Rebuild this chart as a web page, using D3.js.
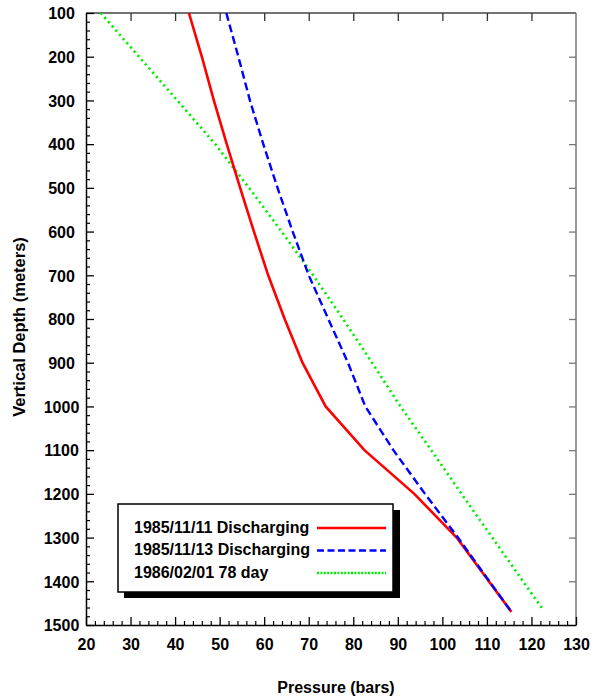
<!DOCTYPE html>
<html><head><meta charset="utf-8">
<script src="https://cdn.jsdelivr.net/npm/d3@7"></script>
<style>
body{margin:0;background:#fff}
text{font-family:Arial,"Liberation Sans",sans-serif;font-weight:bold;fill:#000}
</style></head>
<body><svg id="c" width="602" height="698"></svg>
<script>
// ---- data ----
const seriesNames = ["1985/11/11 Discharging", "1985/11/13 Discharging", "1986/02/01 78 day"];
const redDepth   = [100, 200, 300, 400, 500, 600, 700, 800, 900, 1000, 1100, 1200, 1300, 1470];
const redPress   = [43.1, 46.0, 48.7, 51.6, 54.6, 57.7, 60.9, 64.6, 68.6, 73.8, 82.5, 93.7, 103.2, 115.5];
const blueDepth  = [100, 200, 300, 400, 500, 600, 700, 800, 900, 1000, 1100, 1200, 1300, 1470];
const bluePress  = [51.5, 54.2, 56.8, 59.8, 63.0, 66.4, 70.0, 74.4, 78.8, 82.7, 89.0, 96.1, 103.5, 115.5];
const greenDepth = [100, 200, 300, 400, 500, 600, 700, 800, 900, 1000, 1100, 1200, 1300, 1400, 1465];
const greenPress = [23.3, 31.9, 40.5, 49.0, 56.6, 63.9, 71.0, 77.7, 84.2, 90.6, 97.5, 104.3, 111.2, 118.1, 122.6];
const xTicks = [20, 30, 40, 50, 60, 70, 80, 90, 100, 110, 120, 130];
const yTicks = [100, 200, 300, 400, 500, 600, 700, 800, 900, 1000, 1100, 1200, 1300, 1400, 1500];
const xTitle = "Pressure (bars)";
const yTitle = "Vertical Depth (meters)";

// ---- layout ----
const L = 86, R = 576, T = 13, B = 625;
const svg = d3.select("#c");
const x = d3.scaleLinear().domain([20, 130]).range([L, R]);
const y = d3.scaleLinear().domain([100, 1500]).range([T, B]);

// frame top/right
svg.append("line").attr("x1", L).attr("x2", R).attr("y1", T).attr("y2", T).attr("stroke", "#444").attr("stroke-width", 1.5);
svg.append("line").attr("x1", R).attr("x2", R).attr("y1", T).attr("y2", B).attr("stroke", "#777").attr("stroke-width", 1.5);

// minor ticks
const xMinor = d3.range(20, 130.01, 2).filter(v => v % 10 !== 0);
const yMinor = d3.range(100, 1500.01, 20).filter(v => v % 100 !== 0);
svg.append("g").attr("transform", `translate(0,${B})`)
  .call(d3.axisBottom(x).tickValues(xMinor).tickSizeInner(-4).tickSizeOuter(0).tickFormat(""))
  .call(g => g.select(".domain").remove())
  .call(g => g.selectAll("line").attr("stroke", "#000").attr("stroke-width", 1.2));
svg.append("g").attr("transform", `translate(${L},0)`)
  .call(d3.axisLeft(y).tickValues(yMinor).tickSizeInner(-4).tickSizeOuter(0).tickFormat(""))
  .call(g => g.select(".domain").remove())
  .call(g => g.selectAll("line").attr("stroke", "#000").attr("stroke-width", 1.2));

// major axes
const gx = svg.append("g").attr("transform", `translate(0,${B})`)
  .call(d3.axisBottom(x).tickValues(xTicks).tickSizeInner(-8).tickSizeOuter(0).tickFormat(d3.format("d")));
gx.select(".domain").attr("stroke", "#000").attr("stroke-width", 1.5);
gx.selectAll("line").attr("stroke", "#000").attr("stroke-width", 1.3);
gx.selectAll("text").attr("y", 25).attr("dy", null).style("font-size", "16px").style("font-family", "Arial").attr("fill", "#000");

const gy = svg.append("g").attr("transform", `translate(${L},0)`)
  .call(d3.axisLeft(y).tickValues(yTicks).tickSizeInner(-8).tickSizeOuter(0).tickFormat(d3.format("d")));
gy.select(".domain").attr("stroke", "#000").attr("stroke-width", 1.5);
gy.selectAll("line").attr("stroke", "#000").attr("stroke-width", 1.3);
gy.selectAll("text").attr("x", -24.5).attr("text-anchor", "middle").attr("dy", "0.36em").style("font-size", "16px").style("font-family", "Arial").attr("fill", "#000");

// top and right major ticks
svg.append("g").attr("transform", `translate(0,${T})`)
  .call(d3.axisTop(x).tickValues(xTicks.slice(1, -1)).tickSizeInner(-8).tickSizeOuter(0).tickFormat(""))
  .call(g => g.select(".domain").remove())
  .call(g => g.selectAll("line").attr("stroke", "#333").attr("stroke-width", 1.3));
svg.append("g").attr("transform", `translate(${R},0)`)
  .call(d3.axisRight(y).tickValues(yTicks.slice(1, -1)).tickSizeInner(-7).tickSizeOuter(0).tickFormat(""))
  .call(g => g.select(".domain").remove())
  .call(g => g.selectAll("line").attr("stroke", "#777").attr("stroke-width", 1.3));

// titles
svg.append("text").attr("x", 336).attr("y", 693).attr("text-anchor", "middle").style("font-size", "16px").text(xTitle);
svg.append("text").attr("transform", "translate(25,327) rotate(-90)").attr("text-anchor", "middle").style("font-size", "16.5px").text(yTitle);

// lines
const clip = svg.append("clipPath").attr("id", "pc").append("rect").attr("x", L).attr("y", T).attr("width", R - L).attr("height", B - T);
const line = d3.line().x(d => x(d[0])).y(d => y(d[1]));
const styles = [
  {color: "#ff0000", dash: null, w: 2.6},
  {color: "#0000ff", dash: "8,4", w: 2.4},
  {color: "#00ee00", dash: "2.2,3.4", w: 2.6}
];
const series = [
  d3.zip(redPress, redDepth),
  d3.zip(bluePress, blueDepth),
  d3.zip(greenPress, greenDepth)
];
const gl = svg.append("g").attr("clip-path", "url(#pc)");
[2, 0, 1].forEach(i => {
  gl.append("path").datum(series[i]).attr("d", line).attr("fill", "none")
    .attr("stroke", styles[i].color).attr("stroke-width", styles[i].w)
    .attr("stroke-dasharray", styles[i].dash);
});

// legend
const lg = svg.append("g");
lg.append("rect").attr("x", 124).attr("y", 510).attr("width", 276).attr("height", 88).attr("fill", "#000");
lg.append("rect").attr("x", 118).attr("y", 504).attr("width", 275).attr("height", 88).attr("fill", "#fff").attr("stroke", "#000").attr("stroke-width", 1.5);
const legendDash = [null, "7,3.5", "2,1.4"];
seriesNames.forEach((n, i) => {
  const yy = 527 + i * 22.5;
  lg.append("text").attr("x", 134).attr("y", yy + 5.5).style("font-size", "16px").text(n);
  lg.append("line").attr("x1", 317).attr("x2", 386).attr("y1", yy + 1).attr("y2", yy + 1)
    .attr("stroke", styles[i].color).attr("stroke-width", 2.6).attr("stroke-dasharray", legendDash[i]);
});
</script></body></html>
